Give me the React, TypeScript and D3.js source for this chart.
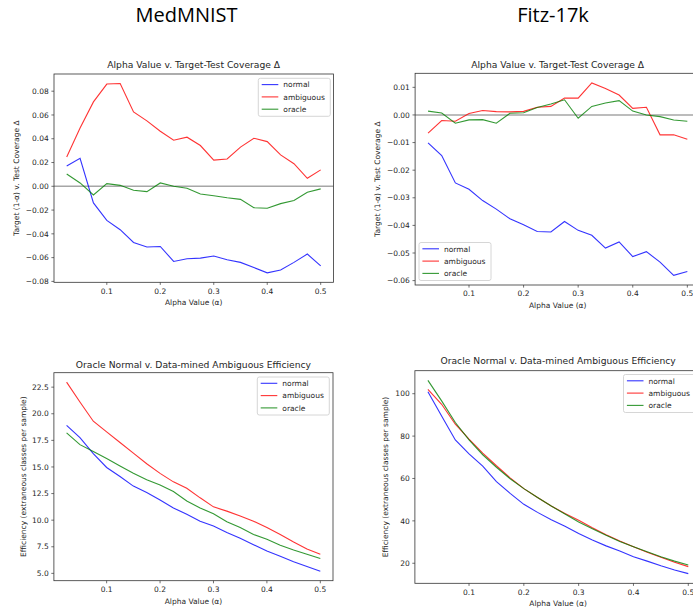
import React from 'react';
import * as d3 from 'd3';

const alpha = [0.025, 0.05, 0.075, 0.1, 0.125, 0.15, 0.175, 0.2, 0.225, 0.25, 0.275, 0.3, 0.325, 0.35, 0.375, 0.4, 0.425, 0.45, 0.475, 0.5];
const seriesNames = ['normal', 'ambiguous', 'oracle'];
const seriesColors = ['blue', 'red', 'green'];
const xTicks = [0.1, 0.2, 0.3, 0.4, 0.5];

// MedMNIST coverage delta
const medCovNormal = [0.0171, 0.0236, -0.014, -0.0287, -0.0365, -0.0472, -0.0511, -0.0506, -0.0632, -0.061, -0.0604, -0.0587, -0.0618, -0.064, -0.0683, -0.0728, -0.0705, -0.064, -0.057, -0.0669];
const medCovAmbiguous = [0.0247, 0.049, 0.071, 0.086, 0.0865, 0.0626, 0.055, 0.0463, 0.0388, 0.0413, 0.0343, 0.022, 0.023, 0.033, 0.0404, 0.0376, 0.0264, 0.019, 0.0067, 0.0138];
const medCovOracle = [0.0104, 0.0028, -0.0073, 0.0022, 0.0008, -0.0034, -0.0045, 0.0028, 0.0, -0.0017, -0.0065, -0.0079, -0.0096, -0.011, -0.018, -0.0185, -0.0146, -0.012, -0.005, -0.0022];

// Fitz-17k coverage delta
const fitzCovNormal = [-0.0101, -0.0147, -0.0246, -0.0269, -0.031, -0.0341, -0.0376, -0.0398, -0.0422, -0.0424, -0.0386, -0.0418, -0.0436, -0.0482, -0.046, -0.0513, -0.0495, -0.0533, -0.0581, -0.0567];
const fitzCovAmbiguous = [-0.0066, -0.002, -0.0023, 0.0005, 0.0016, 0.0012, 0.0011, 0.0013, 0.0028, 0.0031, 0.0061, 0.0061, 0.0116, 0.0096, 0.0072, 0.0024, 0.0028, -0.0072, -0.0072, -0.0088];
const fitzCovOracle = [0.0014, 0.0007, -0.003, -0.0018, -0.0017, -0.003, 0.0006, 0.0008, 0.0027, 0.004, 0.0055, -0.0012, 0.0031, 0.0043, 0.0052, 0.0014, 0.0, -0.0006, -0.0018, -0.0023];

// MedMNIST efficiency
const medEffNormal = [18.9, 17.75, 16.25, 14.95, 14.1, 13.2, 12.6, 11.9, 11.15, 10.55, 9.9, 9.45, 8.85, 8.3, 7.7, 7.1, 6.6, 6.1, 5.65, 5.2];
const medEffAmbiguous = [22.97, 21.1, 19.3, 18.3, 17.3, 16.3, 15.3, 14.4, 13.6, 13.0, 12.1, 11.25, 10.85, 10.4, 9.9, 9.3, 8.65, 7.95, 7.3, 6.8];
const medEffOracle = [18.2, 17.1, 16.45, 15.8, 15.1, 14.4, 13.8, 13.3, 12.7, 11.8, 11.15, 10.6, 9.85, 9.3, 8.65, 8.2, 7.65, 7.2, 6.8, 6.4];

// Fitz-17k efficiency
const fitzEffNormal = [100.9, 89.5, 78.2, 71.6, 65.8, 58.5, 53, 47.8, 44, 40.5, 37.5, 34, 31, 28.2, 25.8, 23.1, 21, 18.8, 16.8, 15.1];
const fitzEffAmbiguous = [102, 95, 85.6, 78.6, 72, 66, 60.3, 55.2, 51, 47, 43.5, 40.3, 36.8, 33.5, 30.5, 27.8, 25.2, 22.8, 20.5, 18.4];
const fitzEffOracle = [106.3, 96.6, 86.4, 78.2, 71.2, 65.3, 59.9, 55.2, 51, 47, 43.2, 39.5, 36.3, 33.2, 30.3, 27.8, 25.4, 23.1, 21, 19.2];

const medCovTicks = [-0.08, -0.06, -0.04, -0.02, 0, 0.02, 0.04, 0.06, 0.08];
const fitzCovTicks = [-0.06, -0.05, -0.04, -0.03, -0.02, -0.01, 0, 0.01];
const medEffTicks = [5, 7.5, 10, 12.5, 15, 17.5, 20, 22.5];
const fitzEffTicks = [20, 40, 60, 80, 100];

const covTitle = 'Alpha Value v. Target-Test Coverage Δ';
const effTitle = 'Oracle Normal v. Data-mined Ambiguous Efficiency';
const covYLabel = 'Target (1-α) v. Test Coverage Δ';
const effYLabel = 'Efficiency (extraneous classes per sample)';
const xLabel = 'Alpha Value (α)';

const FONT = 'DejaVu Sans';
const TICK_FS = 7.5;
const TITLE_FS = 9.2;
const TXT = '#262626';

const minusFmt = (f: (n: number) => string) => (n: number) => f(n).replace('-', '\u2212');

type PanelProps = {
  left: number; right: number; top: number; bottom: number;
  title: string; titleY: number; ylabel: string; ylabelX: number;
  series: number[][]; yTicks: number[]; yFmt: (n: number) => string;
  zeroLine?: boolean; legendX: number; legendY: number;
};

function Panel(p: PanelProps) {
  const all = p.series.flat();
  const ymin = d3.min(all) as number;
  const ymax = d3.max(all) as number;
  const my = (ymax - ymin) * 0.05;
  const [amin, amax] = d3.extent(alpha) as [number, number];
  const mx = (amax - amin) * 0.05;
  const x = d3.scaleLinear().domain([amin - mx, amax + mx]).range([p.left, p.right]);
  const y = d3.scaleLinear().domain([ymin - my, ymax + my]).range([p.bottom, p.top]);
  const line = d3.line<number>().x((_, i) => x(alpha[i])).y((d) => y(d));
  const cx = (p.left + p.right) / 2;
  const cy = (p.top + p.bottom) / 2;
  const lw = 72, lh = 38;
  return (
    <g fontFamily={FONT}>
      <text x={cx} y={p.titleY} fontSize={TITLE_FS} textAnchor="middle" fill={TXT}>{p.title}</text>
      {p.zeroLine && (
        <line x1={p.left} x2={p.right} y1={y(0)} y2={y(0)} stroke="#a6a6a6" strokeWidth={1.6} />
      )}
      {p.series.map((s, i) => (
        <path key={i} d={line(s) || ''} fill="none" stroke={seriesColors[i]} strokeOpacity={0.8} strokeWidth={1.1} />
      ))}
      <rect x={p.left} y={p.top} width={p.right - p.left} height={p.bottom - p.top} fill="none" stroke="#333" strokeWidth={0.8} />
      {xTicks.map((t) => (
        <g key={t}>
          <line x1={x(t)} x2={x(t)} y1={p.bottom} y2={p.bottom + 2.6} stroke="#333" strokeWidth={0.7} />
          <text x={x(t)} y={p.bottom + 11.4} fontSize={TICK_FS} textAnchor="middle" fill={TXT}>{d3.format('.1f')(t)}</text>
        </g>
      ))}
      {p.yTicks.map((t) => (
        <g key={t}>
          <line x1={p.left - 2.6} x2={p.left} y1={y(t)} y2={y(t)} stroke="#333" strokeWidth={0.7} />
          <text x={p.left - 5.2} y={y(t) + 2.7} fontSize={TICK_FS} textAnchor="end" fill={TXT}>{p.yFmt(t)}</text>
        </g>
      ))}
      <text x={cx} y={p.bottom + 23} fontSize={TICK_FS} textAnchor="middle" fill={TXT}>{xLabel}</text>
      <text transform={`translate(${p.ylabelX},${cy}) rotate(-90)`} fontSize={TICK_FS} textAnchor="middle" dominantBaseline="central" fill={TXT}>{p.ylabel}</text>
      <g>
        <rect x={p.legendX} y={p.legendY} width={lw} height={lh} rx={2} fill="white" fillOpacity={0.8} stroke="#ccc" strokeWidth={0.8} />
        {seriesNames.map((n, i) => {
          const ry = p.legendY + 6.3 + i * 12.3;
          return (
            <g key={n}>
              <line x1={p.legendX + 3.4} x2={p.legendX + 20} y1={ry} y2={ry} stroke={seriesColors[i]} strokeOpacity={0.8} strokeWidth={1.1} />
              <text x={p.legendX + 25} y={ry + 2.7} fontSize={TICK_FS} fill={TXT}>{n}</text>
            </g>
          );
        })}
      </g>
    </g>
  );
}

export default function App() {
  return (
    <svg width={693} height={614} style={{ position: 'absolute', left: 0, top: 0, background: 'white' }}>
      <rect x={0} y={0} width={693} height={614} fill="white" />
      <text x={186.5} y={22} fontFamily="Open Sans" fontSize={20} textAnchor="middle" fill="#000">MedMNIST</text>
      <text x={553} y={22} fontFamily="Open Sans" fontSize={20} textAnchor="middle" fill="#000">Fitz-17k</text>
      <Panel left={54} right={333.4} top={74} bottom={282.3} title={covTitle} titleY={68.2}
        ylabel={covYLabel} ylabelX={16.7} series={[medCovNormal, medCovAmbiguous, medCovOracle]}
        yTicks={medCovTicks} yFmt={minusFmt(d3.format('.2f'))} zeroLine legendX={258.3} legendY={78.3} />
      <Panel left={415.1} right={700.3} top={73.3} bottom={285} title={covTitle} titleY={68.2}
        ylabel={covYLabel} ylabelX={377.3} series={[fitzCovNormal, fitzCovAmbiguous, fitzCovOracle]}
        yTicks={fitzCovTicks} yFmt={minusFmt(d3.format('.2f'))} zeroLine legendX={419} legendY={242.5} />
      <Panel left={53.9} right={333} top={372.7} bottom={580.7} title={effTitle} titleY={367.5}
        ylabel={effYLabel} ylabelX={23.3} series={[medEffNormal, medEffAmbiguous, medEffOracle]}
        yTicks={medEffTicks} yFmt={d3.format('.1f')} legendX={257.3} legendY={377} />
      <Panel left={414.9} right={701.3} top={370.7} bottom={583.3} title={effTitle} titleY={363.9}
        ylabel={effYLabel} ylabelX={385} series={[fitzEffNormal, fitzEffAmbiguous, fitzEffOracle]}
        yTicks={fitzEffTicks} yFmt={d3.format('d')} legendX={623.5} legendY={374.5} />
    </svg>
  );
}
